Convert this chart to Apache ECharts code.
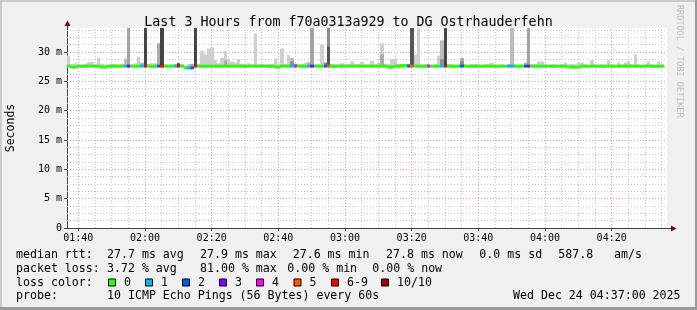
<!DOCTYPE html>
<html><head><meta charset="utf-8">
<script src="https://cdn.jsdelivr.net/npm/echarts@6/dist/echarts.min.js"></script>
<style>html,body{margin:0;padding:0;background:#f0f0f0}#c{width:697px;height:310px}</style>
</head><body><div id="c"></div>
<script>
// ---- data (minutes after midnight; values in ms) ----
const startMinute = 96.6;          // left edge of the plot (~01:36:36)
const endMinute = 276.6;           // right edge (~04:36:36)
const stepMinutes = 1;             // one column per 60 s

const medianRtt = [
27.6,27.45,27.45,27.6,27.6,27.6,27.6,27.6,27.6,27.6,
27.45,27.45,27.6,27.6,27.6,27.6,27.6,27.6,27.6,27.6,
27.6,27.6,27.6,27.6,27.6,27.6,27.6,27.6,27.6,27.6,
27.6,27.6,27.6,27.6,27.6,27.3,27.3,27.3,27.6,27.6,
27.6,27.6,27.6,27.6,27.6,27.6,27.6,27.6,27.6,27.6,
27.6,27.6,27.6,27.6,27.6,27.6,27.6,27.6,27.6,27.6,
27.6,27.6,27.45,27.45,27.6,27.6,27.6,27.6,27.6,27.6,
27.6,27.6,27.6,27.6,27.6,27.6,27.6,27.6,27.6,27.6,
27.6,27.6,27.6,27.6,27.6,27.6,27.6,27.6,27.6,27.6,
27.6,27.6,27.6,27.6,27.6,27.6,27.45,27.45,27.6,27.6,
27.7,27.7,27.6,27.6,27.6,27.6,27.6,27.6,27.6,27.6,
27.6,27.6,27.6,27.6,27.6,27.6,27.6,27.6,27.6,27.6,
27.6,27.6,27.6,27.6,27.6,27.6,27.6,27.6,27.6,27.6,
27.6,27.6,27.6,27.6,27.6,27.6,27.6,27.6,27.6,27.6,
27.6,27.6,27.6,27.6,27.6,27.6,27.6,27.6,27.6,27.6,
27.45,27.45,27.45,27.45,27.6,27.6,27.6,27.6,27.6,27.6,
27.6,27.6,27.6,27.6,27.6,27.6,27.6,27.6,27.6,27.6,
27.6,27.6,27.6,27.6,27.6,27.6,27.6,27.6,27.6
];
const lossCount = [
0,0,0,0,0,0,0,0,0,0,
0,0,0,0,0,0,0,1,3,0,
0,0,1,7,0,0,0,2,7,0,
0,0,1,6,0,0,1,2,7,0,
0,0,0,0,0,0,0,0,0,0,
0,0,0,0,0,0,0,0,0,0,
0,0,0,0,0,0,0,1,4,0,
0,0,1,3,0,0,0,2,5,0,
0,0,0,0,0,0,0,0,0,0,
0,0,0,0,0,0,0,0,0,0,
0,0,2,5,0,0,0,0,4,0,
0,0,1,7,0,0,0,0,2,0,
0,0,0,0,0,0,0,0,0,0,
0,0,1,1,0,0,0,2,3,0,
0,0,0,0,0,0,0,0,0,0,
0,0,0,0,0,0,0,0,0,0,
0,0,0,0,0,0,0,0,0,0,
0,0,0,0,0,0,0,0,0
];
const smokeTop = [
29.4,28.0,28.1,27.9,27.8,28.0,28.3,28.3,27.9,29.0,
28.0,27.9,27.8,28.0,28.0,27.9,28.0,28.9,34.1,27.9,
28.1,29.2,28.2,34.1,28.0,28.1,28.1,31.5,34.1,27.9,
27.8,27.9,28.0,28.1,27.9,27.8,27.9,28.0,34.1,28.0,
30.2,29.6,30.6,30.8,28.6,28.1,29.0,30.2,28.9,28.4,
28.2,28.8,28.0,27.9,28.1,27.9,33.2,27.9,28.0,27.9,
27.9,28.0,28.9,28.0,30.6,28.0,29.5,29.0,28.0,27.9,
28.0,28.2,28.3,34.1,27.9,28.0,31.3,28.2,34.1,28.0,
27.9,27.9,28.1,27.9,28.0,28.4,27.9,28.0,28.3,27.9,
27.9,28.5,27.9,28.2,31.5,27.9,28.0,28.8,28.9,28.0,
27.9,27.9,28.0,34.1,29.6,34.1,27.9,28.0,27.9,27.8,
28.0,29.4,32.0,34.1,28.0,27.9,27.8,27.9,29.0,27.9,
27.8,27.9,28.0,27.9,27.8,27.9,28.0,28.2,27.9,27.8,
27.9,27.8,27.9,34.1,27.9,27.8,27.9,28.2,34.1,27.9,
27.9,28.4,28.4,27.9,27.8,27.9,27.9,27.8,27.9,28.2,
27.9,28.0,27.9,28.2,28.2,27.9,27.8,28.6,27.9,27.8,
27.9,27.8,28.6,27.9,27.8,28.2,27.9,28.2,28.5,27.9,
29.6,27.9,27.8,27.9,28.4,27.9,27.8,28.4,27.9
];
const smokeMid = [
0,0,0,0,0,0,0,0,0,0,
0,0,0,0,0,0,0,0,0,0,
0,0,0,34.1,0,0,0,0,34.1,0,
0,0,0,0,0,0,0,0,34.1,0,
0,0,0,0,0,0,0,28.6,0,0,
0,0,0,0,0,0,0,0,0,0,
0,0,0,0,0,0,0,28.4,0,0,
0,0,0,0,0,0,0,28.2,30.9,0,
0,0,0,0,0,0,0,0,0,0,
0,0,0,0,29.6,0,0,0,0,0,
0,0,0,34.1,0,0,0,0,0,0,
0,0,28.8,34.1,0,0,0,0,28.4,0,
0,0,0,0,0,0,0,0,0,0,
0,0,0,0,0,0,0,0,0,0,
0,0,0,0,0,0,0,0,0,0,
0,0,0,0,0,0,0,0,0,0,
0,0,0,0,0,0,0,0,0,0,
0,0,0,0,0,0,0,0,0
];
const smokeBottom = [
27.45,27.45,27.45,27.45,27.2,27.2,27.45,27.45,27.45,27.45,
27.45,27.45,27.45,27.2,27.2,27.45,27.45,27.45,27.45,27.45,
27.2,27.45,27.45,27.45,27.45,27.2,27.2,27.45,27.45,27.45,
27.45,27.45,27.45,27.45,27.45,27.45,27.45,27.45,27.45,27.45,
27.45,27.45,27.45,27.45,27.45,27.2,27.2,27.45,27.45,27.45,
27.45,27.45,27.2,27.2,27.45,27.45,27.45,27.45,27.45,27.45,
27.2,27.2,27.45,27.45,27.45,27.45,27.45,27.45,27.45,27.45,
27.2,27.2,27.45,27.45,27.45,27.45,27.45,27.45,27.45,27.2,
27.2,27.45,27.2,27.45,27.45,27.45,27.45,27.45,27.45,27.45,
27.45,27.45,27.45,27.45,27.45,27.45,27.45,27.45,27.45,27.2,
27.2,27.45,27.45,27.45,27.45,27.45,27.2,27.2,27.45,27.45,
27.45,27.45,27.45,27.45,27.45,27.2,27.2,27.45,27.45,27.45,
27.45,27.2,27.2,27.45,27.45,27.45,27.45,27.45,27.2,27.2,
27.45,27.45,27.45,27.45,27.45,27.2,27.45,27.45,27.45,27.45,
27.2,27.45,27.45,27.45,27.45,27.2,27.2,27.45,27.45,27.45,
27.45,27.2,27.45,27.45,27.45,27.45,27.45,27.45,27.45,27.45,
27.2,27.2,27.45,27.45,27.45,27.45,27.45,27.45,27.45,27.45,
27.45,27.45,27.2,27.45,27.45,27.2,27.2,27.45,27.45
];
const xTickMinutes = [100,120,140,160,180,200,220,240,260];
const xTickLabels = ['01:40','02:00','02:20','02:40','03:00','03:20','03:40','04:00','04:20'];
const yTickValues = [0,5,10,15,20,25,30];
const yTickLabels = ['0','5 m','10 m','15 m','20 m','25 m','30 m'];
const yMax = 34.1;

const titleText = 'Last 3 Hours from f70a0313a929 to DG Ostrhauderfehn';
const lossLegendLabels = ['0','1','2','3','4','5','6-9','10/10'];
const lossColors = ['#26ff00','#00b8ff','#0059ff','#7e00ff','#ff00ff','#ff5500','#ff0000','#a00000'];
const rttRow = ['median rtt:','27.7 ms avg','27.9 ms max','27.6 ms min','27.8 ms now','0.0 ms sd','587.8','am/s'];
const lossRow = ['packet loss:','3.72 % avg','81.00 % max','0.00 % min','0.00 % now'];
const probeRow = ['probe:','10 ICMP Echo Pings (56 Bytes) every 60s','Wed Dec 24 04:37:00 2025'];

// ---- layout / style ----
const G = {left:67, top:28, width:600, height:200};
const MONO = '"DejaVu Sans Mono", monospace';
const topShades = ['#cfcfcf','#bcbcbc','#ababab','#a3a3a3','#9a9a9a','#8c8c8c','#444444'];
const midShades = ['#ababab','#8f8f8f','#8a8a8a','#808080','#777777','#555555','#444444'];
function lossIdx(l){ return l >= 10 ? 7 : (l >= 6 ? 6 : l); }

const seriesData = medianRtt.map((m,i)=>[startMinute + i*stepMinutes, m, lossCount[i], smokeTop[i], smokeMid[i], smokeBottom[i]]);

function renderItem(params, api){
  const t0 = api.value(0), med = api.value(1), loss = api.value(2);
  const top = api.value(3), mid = api.value(4), bot = api.value(5);
  const xa = Math.round(api.coord([t0, 0])[0]);
  const xb = Math.round(api.coord([t0 + stepMinutes, 0])[0]);
  const yOf = v => api.coord([t0, v])[1];
  const kids = [];
  const band = (lo, hi, color) => {
    const y1 = yOf(hi), y2 = yOf(lo);
    kids.push({type:'rect', shape:{x:xa, y:y1, width:xb-xa, height:y2-y1}, style:{fill:color}});
  };
  const k = Math.min(loss, 6);
  if (top > bot) band(bot, top, topShades[k]);
  if (mid > 0) band(bot, mid, midShades[k]);
  if (loss < 10) band(med - 0.25, med + 0.25, lossColors[lossIdx(loss)]);
  return {type:'group', children:kids};
}

const minorX = [], minorY = [], majorY = [];
for (let m = 100; m <= endMinute; m += 5) if (xTickMinutes.indexOf(m) < 0) minorX.push(m);
for (let v = 1.25; v < yMax; v += 1.25) { if (Math.abs(v/5 - Math.round(v/5)) < 1e-6) majorY.push(v); else minorY.push(v); }

const gridLine = (name, xs, ys, color) => ({
  type:'line', name, data:[], silent:true, z:1,
  markLine:{silent:true, symbol:['none','none'], animation:false, label:{show:false},
    lineStyle:{color, width:1, type:[1,2]},
    data: xs.map(x=>({xAxis:x})).concat(ys.map(y=>({yAxis:y})))}
});

// legend graphics
const graphics = [];
const txt = (x, y, s, size, extra) => graphics.push(Object.assign({type:'text', x, y, silent:true,
  style:{text:s, font:size+'px '+MONO, fill:'#000', verticalAlign:'middle', textVerticalAlign:'middle'}}, extra||{}));
const rttX = [16,107,200,292.7,386,479.3,558.3,614];
rttRow.forEach((s,i)=>txt(rttX[i], 254.5, s, 11.6));
const lossX = [16,107,200,287.3,372.3];
lossRow.forEach((s,i)=>txt(lossX[i], 268.5, s, 11.6));
txt(16, 282.5, 'loss color:', 11.6);
const swX = [108.5,145.5,182.5,219.5,256.5,294,331.5,381.5];
lossLegendLabels.forEach((s,i)=>{
  graphics.push({type:'rect', silent:true, shape:{x:swX[i], y:279, width:7, height:7},
    style:{fill:lossColors[i], stroke:'#000', lineWidth:1}});
  txt(swX[i]+15.5, 282.5, s, 11.6);
});
txt(16, 296, probeRow[0], 11.6);
txt(107, 296, probeRow[1], 11.6);
txt(513, 296, probeRow[2], 11.6);
// watermark
graphics.push({type:'text', x:684, y:5, rotation:-Math.PI/2, silent:true,
  style:{text:'RRDTOOL / TOBI OETIKER', font:'8.5px '+MONO, fill:'#bdbdbd', verticalAlign:'top', textVerticalAlign:'top'}});
// frame shading
graphics.push({type:'rect', silent:true, shape:{x:0,y:0,width:697,height:2}, style:{fill:'#cbcbcb'}});
graphics.push({type:'rect', silent:true, shape:{x:0,y:0,width:2,height:310}, style:{fill:'#cbcbcb'}});
graphics.push({type:'rect', silent:true, shape:{x:695,y:0,width:2,height:310}, style:{fill:'#999999'}});
graphics.push({type:'rect', silent:true, shape:{x:0,y:307,width:697,height:3}, style:{fill:'#999999'}});
// axis extensions + arrows
const ox = G.left + 0.5, oy = G.top + G.height + 0.5;
graphics.push({type:'line', silent:true, z:10, shape:{x1:ox, y1:G.top, x2:ox, y2:G.top-6}, style:{stroke:'#404040', lineWidth:1}});
graphics.push({type:'polygon', silent:true, z:10, shape:{points:[[ox-3,G.top-2],[ox+3,G.top-2],[ox,G.top-7.5]]}, style:{fill:'#7f0000'}});
const rx = G.left + G.width;
graphics.push({type:'line', silent:true, z:10, shape:{x1:rx, y1:oy, x2:rx+8, y2:oy}, style:{stroke:'#404040', lineWidth:1}});
graphics.push({type:'polygon', silent:true, z:10, shape:{points:[[rx+4,oy-3],[rx+4,oy+3],[rx+9.5,oy]]}, style:{fill:'#7f0000'}});

const chart = echarts.init(document.getElementById('c'), null, {renderer:'canvas'});
chart.setOption({
  animation:false,
  backgroundColor:'#f0f0f0',
  title:{text:titleText, left:'center', top:11, textStyle:{fontFamily:MONO, fontSize:13.3, fontWeight:'normal', color:'#000'}},
  grid:{left:G.left, top:G.top, width:G.width, height:G.height, show:true, backgroundColor:'#ffffff', borderWidth:0, outerBoundsMode:'none'},
  xAxis:{type:'value', min:startMinute, max:endMinute,
    axisLine:{show:true, onZero:false, lineStyle:{color:'#404040', width:1}},
    axisTick:{show:true, customValues:xTickMinutes, length:3, lineStyle:{color:'#404040'}},
    axisLabel:{customValues:xTickMinutes, formatter:v=>xTickLabels[xTickMinutes.indexOf(v)] || '', fontFamily:MONO, fontSize:10, color:'#000', margin:5},
    splitLine:{show:false}},
  yAxis:{type:'value', min:0, max:yMax, name:'Seconds', nameLocation:'middle', nameGap:50,
    nameTextStyle:{fontFamily:MONO, fontSize:11.5, color:'#000'},
    axisLine:{show:true, lineStyle:{color:'#404040', width:1}},
    axisTick:{show:true, customValues:yTickValues, length:3, lineStyle:{color:'#404040'}},
    axisLabel:{customValues:yTickValues, formatter:v=>yTickLabels[yTickValues.indexOf(v)] || '', fontFamily:MONO, fontSize:10, color:'#000', margin:5},
    splitLine:{show:false}},
  series:[
    gridLine('minor', minorX, minorY, '#c4c4c4'),
    gridLine('major', xTickMinutes, majorY, '#e39a9a'),
    {type:'custom', name:'rtt', renderItem, data:seriesData, clip:true, z:5, encode:{x:0, y:1}, silent:true}
  ],
  graphic:graphics
});
</script></body></html>
